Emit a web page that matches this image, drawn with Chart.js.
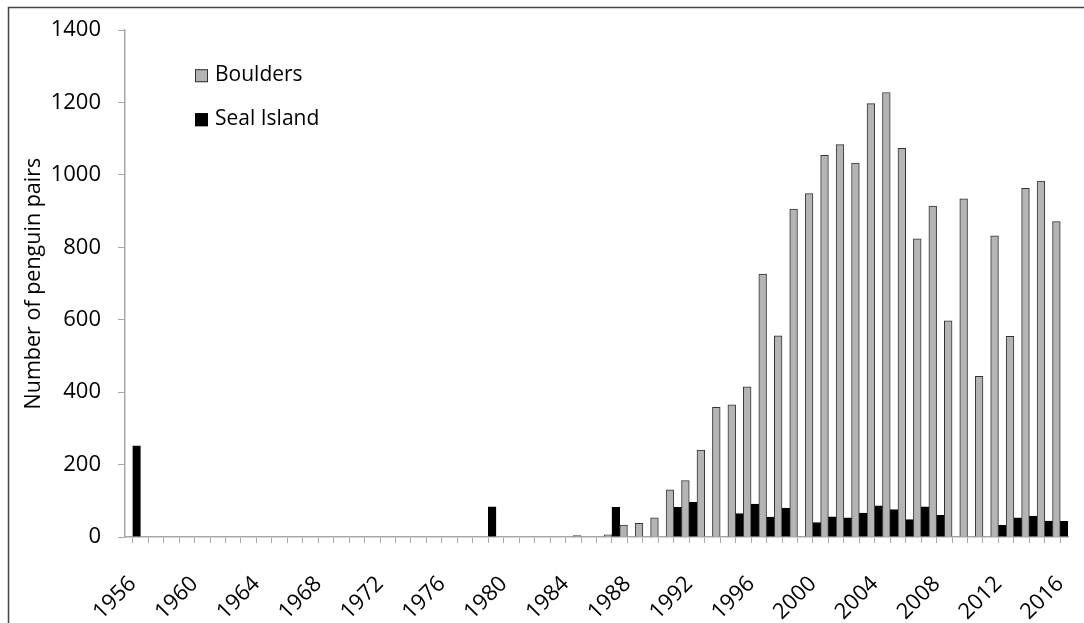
<!DOCTYPE html>
<html>
<head>
<meta charset="utf-8">
<script src="https://cdn.jsdelivr.net/npm/chart.js@4.4.1/dist/chart.umd.min.js"></script>
<style>
  html, body { margin: 0; padding: 0; background: #fff; }
  #wrap { position: relative; width: 1084px; height: 623px; }
</style>
</head>
<body>
<div id="wrap"><canvas id="penguinChart"></canvas></div>
<script>
const years = [
  1956, 1957, 1958, 1959, 1960, 1961, 1962, 1963, 1964, 1965,
  1966, 1967, 1968, 1969, 1970, 1971, 1972, 1973, 1974, 1975,
  1976, 1977, 1978, 1979, 1980, 1981, 1982, 1983, 1984, 1985,
  1986, 1987, 1988, 1989, 1990, 1991, 1992, 1993, 1994, 1995,
  1996, 1997, 1998, 1999, 2000, 2001, 2002, 2003, 2004, 2005,
  2006, 2007, 2008, 2009, 2010, 2011, 2012, 2013, 2014, 2015, 2016
];

// Boulders colony (grey)
const boulders = [
  null, null, null, null, null, null, null, null, null, null,
  null, null, null, null, null, null, null, null, null, null,
  null, null, null, null, null, null, null, null, null, 4,
  null, 6, 33, 38, 53, 130, 156, 240, 358, 365,
  415, 726, 556, 906, 949, 1054, 1084, 1033, 1197, 1228,
  1074, 824, 914, 597, 934, 444, 832, 554, 963, 983, 871
];

// Seal Island (black)
const sealIsland = [
  252, null, null, null, null, null, null, null, null, null,
  null, null, null, null, null, null, null, null, null, null,
  null, null, null, 83, null, null, null, null, null, null,
  null, 82, null, null, null, 82, 96, null, null, 65,
  91, 55, 80, null, 40, 56, 53, 66, 86, 76,
  48, 83, 60, null, null, null, 32, 53, 58, 44, 43
];

const yTicks = [0, 200, 400, 600, 800, 1000, 1200, 1400];

const fontFamily = '"Open Sans", Lato, sans-serif';
Chart.defaults.font.family = fontFamily;
Chart.defaults.color = '#000';

// frame around the whole figure (only left/top edges are inside the image)
const framePlugin = {
  id: 'frame',
  afterDraw(chart) {
    const c = chart.ctx;
    c.save();
    c.strokeStyle = '#444';
    c.lineWidth = 1.5;
    c.beginPath();
    c.moveTo(8.5, chart.height + 5);
    c.lineTo(8.5, 7.5);
    c.lineTo(chart.width + 5, 7.5);
    c.stroke();
    c.restore();
  }
};

// legend sitting inside the plot, like the original
const insideLegend = {
  id: 'insideLegend',
  afterDraw(chart) {
    const c = chart.ctx;
    const area = chart.chartArea;
    const x0 = area.left + 70;
    let y0 = area.top + 39;
    c.save();
    c.font = '21px ' + fontFamily;
    c.textBaseline = 'middle';
    chart.data.datasets.forEach(ds => {
      c.fillStyle = ds.backgroundColor;
      c.fillRect(x0, y0, 13, 13);
      c.strokeStyle = ds.borderColor;
      c.lineWidth = 1;
      c.strokeRect(x0 + 0.5, y0 + 0.5, 12, 12);
      c.fillStyle = '#000';
      c.fillText(ds.label, x0 + 20, y0 + 6);
      y0 += 44;
    });
    c.restore();
  }
};

const ctx = document.getElementById('penguinChart');
new Chart(ctx, {
  type: 'bar',
  data: {
    labels: years,
    datasets: [
      {
        label: 'Boulders',
        data: boulders,
        backgroundColor: '#b4b4b4',
        borderColor: '#333',
        borderWidth: 1,
        barPercentage: 1,
        categoryPercentage: 1
      },
      {
        label: 'Seal Island',
        data: sealIsland,
        backgroundColor: '#000',
        borderColor: '#000',
        borderWidth: 1,
        barPercentage: 1,
        categoryPercentage: 1
      }
    ]
  },
  options: {
    responsive: true,
    maintainAspectRatio: false,
    animation: false,
    layout: { padding: { left: 21, top: 27, right: 16, bottom: 0 } },
    plugins: {
      legend: { display: false },
      tooltip: { enabled: false }
    },
    scales: {
      x: {
        grid: {
          offset: false,
          drawOnChartArea: false,
          drawTicks: true,
          tickLength: 6,
          color: '#a8a8a8'
        },
        border: { color: '#a8a8a8', width: 1.5 },
        ticks: {
          autoSkip: false,
          maxRotation: 45,
          minRotation: 45,
          padding: 28,
          font: { size: 22 },
          callback: (val, i) => (i % 4 === 0 ? String(years[i]) : '')
        },
        afterFit: s => {
          s.height = 86;
          s.paddingLeft = 0;
          s.paddingRight = 0;
        }
      },
      y: {
        min: 0,
        max: 1400,
        afterBuildTicks: s => { s.ticks = yTicks.map(v => ({ value: v })); },
        grid: {
          drawOnChartArea: false,
          drawTicks: true,
          tickLength: 7,
          color: '#a8a8a8'
        },
        border: { color: '#a8a8a8', width: 1.5 },
        ticks: {
          padding: 17,
          font: { size: 22 },
          callback: v => String(v)
        },
        title: {
          display: true,
          text: 'Number of penguin pairs',
          font: { size: 21.5 },
          padding: { top: 0, bottom: 0 }
        },
        afterFit: s => { s.width = 104; }
      }
    }
  },
  plugins: [framePlugin, insideLegend]
});
</script>
</body>
</html>
